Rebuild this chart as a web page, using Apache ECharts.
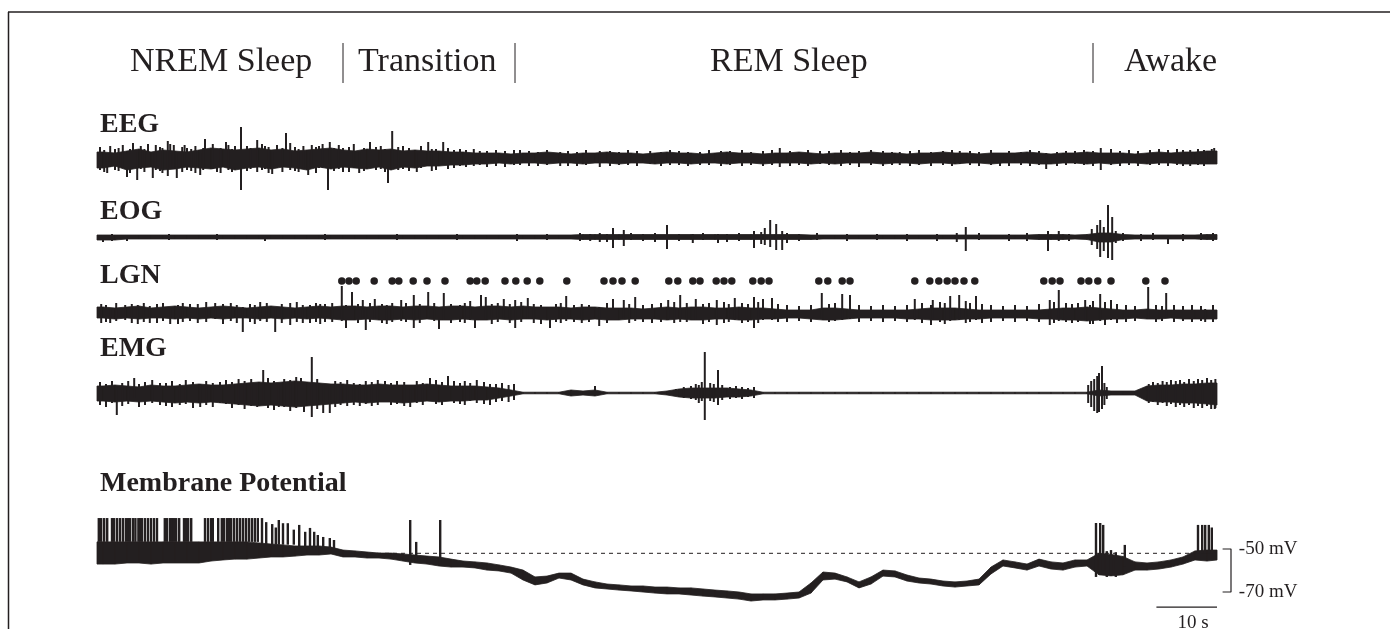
<!DOCTYPE html>
<html><head><meta charset="utf-8">
<script src="https://cdn.jsdelivr.net/npm/echarts@6/dist/echarts.min.js"></script>
<style>html,body{margin:0;padding:0;background:#fff}#c{width:1390px;height:629px}</style>
</head><body><div id="c"></div>
<script>
// ---------------- data ----------------
const phaseLabels = ['NREM Sleep', 'Transition', 'REM Sleep', 'Awake'];
const channelNames = ['EEG', 'EOG', 'LGN', 'EMG', 'Membrane Potential'];
const BIN_S = 2;            // envelope bins, seconds
const T_END = 186.67;       // record length, seconds

// core envelopes: max / min per 2-s bin (arbitrary units, baseline 0)
const eegHi = [6,5,7,9,6,8,7,6,8,10, 9,8,9,10,8,9,7,8,9,10, 8,7,9,8,9,7,8,7,7,6, 6,5,5,5,4,5,5,6,5,4, 5,5,6,5,5,4,5,6,5,5, 4,5,6,5,5,4,5,5,6,5, 4,5,5,5,6,5,5,4,5,5, 6,5,5,4,5,5,5,6,5,4, 5,5,6,5,5,5,4,5,6,5, 6,6,7,7];
const eegLo = [-10,-8,-12,-10,-9,-12,-11,-9,-10,-11, -9,-12,-10,-9,-11,-9,-10,-12,-9,-11, -9,-10,-11,-9,-12,-9,-10,-8,-8,-7, -7,-6,-6,-5,-6,-5,-5,-6,-5,-5, -6,-5,-5,-6,-5,-5,-6,-5,-5,-6, -5,-5,-6,-5,-5,-6,-5,-5,-5,-6, -5,-6,-5,-5,-5,-6,-5,-5,-6,-5, -5,-6,-5,-5,-6,-5,-5,-5,-6,-6, -5,-5,-6,-5,-6,-5,-5,-6,-5,-5, -6,-6,-6,-6];
const eogHi = [2,2,2,2,2,2,2,2,2,2, 2,2,2,2,2,2,2,2,2,2, 2,2,2,2,2,2,2,2,2,2, 2,2,2,2,2,2,2,2,2,2, 2.5,2.5,2.5,2.5,2.5,2.5,2.5,2.5,2.5,2.5, 2.5,2.5,2.5,2.5,2.5,2.5,2.5,2.5,2.5,2, 2,2,2,2,2,2,2,2,2,2, 2,2,2,2,2,2,2,2,2.5,2.5, 2.5,2,2.5,4,4,2.5,2,2,2,2, 2,2,2.5,2.5];
const eogLo = [-3,-3,-2,-2,-2,-2,-2,-2,-2,-2, -2,-2,-2,-2,-2,-2,-2,-2,-2,-2, -2,-2,-2,-2,-2,-2,-2,-2,-2,-2, -2,-2,-2,-2,-2,-2,-2,-2,-2,-2, -2.5,-2.5,-2.5,-2.5,-2.5,-2.5,-2.5,-2.5,-2.5,-2.5, -2.5,-2.5,-2.5,-2.5,-2.5,-2.5,-2.5,-2.5,-2.5,-2.5, -2,-2,-2,-2,-2,-2,-2,-2,-2,-2, -2,-2,-2,-2,-2,-2,-2,-2,-2.5,-2.5, -2.5,-2,-2.5,-5,-5,-2.5,-2,-2,-2,-2, -2,-2,-2.5,-2.5];
const lgnHi = [6,5,6,7,5,6,7,6,5,6, 7,6,5,6,7,6,5,6,7,6, 7,7,6,7,7,6,7,7,6,7, 7,6,7,7,6,7,6,6,6,5, 6,6,5,5,5,4,5,6,5,6, 6,5,5,6,5,5,4,3,3,3, 5,5,4,3,3,3,3,3,4,5, 5,5,4,3,3,3,3,3,3,4, 5,5,6,5,4,3,3,4,3,3, 3,3,3,3];
const lgnLo = [-5,-6,-5,-6,-5,-5,-6,-5,-6,-5, -6,-5,-5,-6,-5,-6,-5,-6,-5,-6, -7,-7,-6,-7,-7,-6,-7,-6,-7,-7, -6,-7,-7,-6,-7,-6,-6,-7,-6,-6, -7,-6,-7,-7,-6,-6,-6,-7,-6,-7, -7,-6,-6,-7,-7,-6,-6,-5,-5,-6, -7,-7,-6,-5,-5,-5,-5,-6,-6,-7, -7,-7,-6,-6,-5,-5,-5,-5,-6,-6, -7,-7,-8,-7,-6,-6,-5,-6,-6,-5, -6,-6,-6,-6];
const emgHi = [7,8,7,6,8,7,7,8,9,8, 8,9,10,11,10,11,12,11,10,9, 9,8,8,9,8,8,8,9,8,7, 7,7,6,5,3, 0.8,0.8,0.8,0.8,3,2,3,0.8,0.8,0.8,0.8,0.8,2, 4,5,5,5,5,4,3, 0.8,0.8,0.8,0.8,0.8,0.8,0.8,0.8,0.8,0.8,0.8,0.8,0.8,0.8,0.8,0.8,0.8,0.8,0.8,0.8,0.8,0.8,0.8,0.8,0.8,0.8,0.8,0.8, 3, 2,2,2, 7,8,8,9,9,10,10];
const emgLo = [-8,-9,-8,-9,-8,-9,-10,-9,-10,-9, -10,-11,-12,-13,-12,-13,-14,-13,-12,-11, -10,-9,-10,-9,-9,-10,-9,-8,-9,-8, -8,-7,-7,-5,-3, -0.8,-0.8,-0.8,-0.8,-3,-2,-3,-0.8,-0.8,-0.8,-0.8,-0.8,-2, -4,-5,-5,-5,-4,-4,-3, -0.8,-0.8,-0.8,-0.8,-0.8,-0.8,-0.8,-0.8,-0.8,-0.8,-0.8,-0.8,-0.8,-0.8,-0.8,-0.8,-0.8,-0.8,-0.8,-0.8,-0.8,-0.8,-0.8,-0.8,-0.8,-0.8,-0.8,-0.8, -3, -2,-2,-2, -8,-9,-9,-10,-10,-11,-12];
// membrane potential envelope, mV
const vmHi = [-46.7,-46.7,-46.7,-46.7,-46.7,-46.7,-46.7,-46.7,-46.7,-46.7, -46.7,-46.7,-46.7,-47.2,-47.7,-48.1,-48.6,-48.6,-48.6,-49.1, -50.5,-50.9,-51.4,-51.9,-51.9,-52.3,-52.8,-53.3,-53.7,-54.7, -55.6,-56.0,-56.5,-57.4,-58.4,-59.8,-63.0,-62.6,-61.2,-61.2, -64.0,-65.3,-66.3,-66.7,-67.2,-67.2,-67.7,-67.7,-68.1,-68.1, -68.6,-69.1,-69.5,-70.0,-70.9,-70.9,-70.9,-70.5,-70.0,-65.8, -60.7,-61.2,-63.0,-65.3,-63.0,-59.8,-60.2,-62.1,-63.5,-64.0, -64.9,-65.3,-64.9,-64.0,-58.4,-55.1,-56.0,-57.0,-54.7,-56.0, -56.5,-55.1,-55.1,-52.0,-52.5,-53.5,-56.0,-56.5,-56.0,-55.1, -53.7,-50.9,-50.5,-50.5];
const vmLo = [-57.0,-57.0,-56.5,-56.5,-57.0,-56.5,-56.5,-56.5,-56.5,-55.6, -55.1,-54.7,-54.7,-54.2,-53.7,-53.7,-53.3,-52.8,-52.8,-52.3, -53.7,-53.7,-54.2,-54.2,-54.7,-55.6,-56.5,-57.0,-57.9,-58.4, -58.4,-58.8,-59.8,-60.2,-61.2,-64.4,-66.7,-65.8,-63.5,-64.4, -66.7,-68.1,-68.6,-69.1,-69.5,-70.0,-70.5,-70.9,-70.9,-71.4, -71.9,-72.3,-72.8,-73.3,-74.2,-73.7,-73.7,-73.3,-72.8,-70.5, -64.4,-64.0,-65.3,-68.1,-66.3,-62.6,-63.0,-64.9,-65.8,-66.3, -67.2,-67.7,-67.2,-66.7,-61.6,-57.9,-58.8,-59.8,-57.9,-59.3, -59.8,-58.4,-57.9,-62.0,-62.5,-62.0,-59.8,-59.8,-59.3,-58.4, -57.0,-55.1,-55.6,-55.1];

// transients: [time s, top, bottom]
const eegSpikes = [[1.7,2,-15],[3.0,9,-12],[5.0,4,-19],[6.0,15,-6],[6.7,6,-22],[8.5,14,-8],[9.3,5,-20],[10.5,11,-13],[11.8,17,-18],[12.8,13,-8],[13.3,4,-20],[15.0,10,-12],[17.2,5,-17],[18.0,19,-6],[20.0,8,-14],[21.5,16,-6],[23.0,12,-10],[24.0,31,-32],[26.7,18,-14],[28.0,12,-11],[29.2,6,-16],[31.5,25,-6],[33.0,11,-13],[35.2,5,-17],[35.8,13,-7],[37.0,12,-10],[38.5,6,-32],[38.8,16,-6],[41.0,10,-14],[43.7,6,-15],[45.5,16,-6],[46.5,11,-12],[48.5,6,-25],[49.2,27,-8],[51.0,12,-11],[53.3,5,-14],[55.2,16,-6],[55.8,9,-13],[57.7,16,-6],[60.5,9,-8],[63.8,7,-7],[70.5,8,-7],[77.2,6,-8],[83.8,7,-9],[92.2,7,-6],[100.5,6,-7],[113.8,10,-9],[120.5,7,-6],[133.8,6,-7],[143.8,7,-6],[150.5,5,-8],[158.2,5,-11],[163.0,7,-6],[167.3,10,-12],[175.5,8,-7],[182.2,8,-8],[185.8,9,-6],
  [0.5,11,-12],[1.2,8,-14],[2.2,12,-9],[3.6,10,-13],[4.3,13,-10],[5.5,9,-15],[7.3,12,-11],[7.9,9,-14],[9.8,13,-12],[10.9,10,-15],[12.2,14,-10],[14.2,11,-14],[14.6,13,-9],[15.7,9,-13],[16.4,12,-15],[17.7,10,-12],[19.3,14,-11],[20.6,10,-15],[21.9,13,-12],[22.5,9,-14],[25.0,12,-13],[25.6,10,-11],[27.5,14,-12],[28.6,11,-15],[30.0,13,-10],[30.9,10,-14],[32.2,15,-12],[33.6,9,-14],[34.4,12,-11],[36.5,11,-15],[37.6,14,-10],[39.5,10,-13],[40.3,13,-11],[42.0,11,-14],[42.8,14,-10],[44.5,10,-13],[47.3,12,-11],[48.0,9,-14],[50.2,11,-12],[52.0,10,-13],[54.0,12,-10],[56.5,9,-12],[58.5,10,-11],[59.5,8,-10],[61.5,8,-9],[62.8,9,-8],[65.0,7,-9],[66.5,8,-8],[68.0,7,-9],[69.5,8,-7],[72.0,7,-8],[73.5,6,-8],[75.0,8,-7],[78.5,7,-8],[80.0,6,-8],[81.5,8,-7],[85.5,7,-8],[87.0,6,-7],[88.5,8,-7],[90.0,7,-8],[94.0,6,-8],[95.5,8,-7],[97.0,7,-7],[98.5,6,-8],[102.0,8,-7],[104.0,7,-8],[105.5,7,-7],[107.5,8,-8],[109.0,6,-7],[111.0,7,-8],[112.5,8,-7],[115.5,7,-8],[117.0,6,-7],[118.5,8,-8],[122.0,7,-7],[124.0,8,-8],[125.5,6,-7],[127.0,7,-9],[129.0,8,-7],[131.0,7,-8],[132.5,6,-7],[135.5,7,-8],[137.0,8,-7],[139.0,6,-8],[141.0,7,-7],[142.5,8,-8],[145.5,7,-7],[147.0,6,-8],[149.0,8,-7],[152.0,7,-8],[154.0,6,-7],[155.5,8,-8],[157.0,7,-7],[160.0,6,-8],[161.5,7,-7],[164.5,8,-7],[166.0,7,-8],[169.0,9,-7],[170.5,7,-8],[172.0,8,-7],[173.5,7,-8],[177.0,9,-7],[178.5,8,-8],[180.0,9,-7],[181.0,8,-8],[183.5,9,-7],[184.5,8,-8],[186.2,10,-6]];
const eogSpikes = [[82.2,3,-4],[83.8,4,-5],[86.0,9,-11],[87.8,7,-9],[95.0,12,-12],[99.3,3,-6],[103.5,3,-6],[109.5,6,-11],[110.7,5,-7],[111.3,9,-8],[112.2,17,-10],[113.2,13,-13],[114.2,6,-13],[115.0,4,-6],[143.3,4,-5],[144.8,10,-14],[158.5,6,-14],[160.3,6,-4],[165.8,8,-8],[166.7,12,-12],[167.2,17,-20],[167.8,10,-14],[168.5,32,-21],[169.2,20,-23],[169.8,6,-6],[178.5,2,-7],
  [1.0,2,-5],[2.5,3,-4],[5.0,2,-4],[12.0,3,-3],[20.0,3,-3],[28.0,2,-4],[38.0,3,-3],[50.0,3,-3],[60.0,3,-3],[70.0,3,-4],[75.0,3,-3],[80.5,4,-4],[85.0,3,-5],[89.0,4,-3],[91.0,3,-4],[93.0,4,-5],[97.0,3,-4],[101.0,4,-3],[105.0,3,-5],[107.0,4,-4],[117.0,3,-4],[120.0,4,-3],[125.0,3,-4],[130.0,3,-3],[135.0,3,-4],[140.0,3,-4],[147.0,4,-3],[152.0,3,-4],[155.0,4,-4],[162.0,3,-4],[171.0,4,-4],[174.0,3,-4],[176.0,4,-3],[181.0,3,-4],[184.0,4,-3],[186.0,4,-4]];
const lgnSpikes = [[2.2,4,-10],[4.7,8,-7],[8.8,7,-10],[12.2,5,-11],[15.5,9,-8],[19.7,10,-6],[24.3,6,-19],[27.2,11,-8],[29.7,5,-19],[32.2,10,-12],[35.5,8,-10],[38.0,9,-9],[40.8,27,-8],[41.5,8,-15],[42.5,21,-7],[44.3,13,-6],[44.8,6,-17],[46.3,14,-6],[49.2,10,-9],[50.7,13,-8],[52.8,18,-15],[55.2,21,-6],[57.0,6,-16],[57.8,20,-7],[62.2,12,-7],[63.0,6,-15],[64.0,18,-6],[64.8,16,-6],[67.8,14,-6],[69.7,13,-15],[71.8,15,-6],[75.5,6,-15],[78.2,17,-8],[83.7,6,-13],[86.0,14,-7],[87.8,13,-6],[89.7,16,-8],[95.2,13,-7],[97.2,18,-9],[99.8,14,-7],[103.3,13,-12],[106.3,15,-7],[109.5,16,-15],[111.0,14,-7],[112.5,15,-7],[120.8,20,-6],[124.2,19,-7],[125.5,18,-6],[136.3,14,-7],[139.0,8,-12],[139.3,13,-6],[142.2,17,-8],[143.7,18,-7],[146.5,17,-7],[158.8,13,-12],[160.3,23,-8],[164.7,13,-7],[165.5,8,-11],[167.2,19,-8],[169.0,13,-7],[175.2,26,-6],[178.2,20,-5],[184.7,4,-9],
  [0.7,9,-10],[1.5,8,-9],[3.2,10,-8],[5.8,9,-10],[6.8,8,-11],[7.8,10,-9],[10.0,9,-10],[11.0,10,-8],[13.5,8,-11],[14.3,10,-9],[16.8,9,-10],[18.2,11,-9],[21.0,9,-11],[22.3,10,-8],[23.3,8,-10],[25.5,9,-9],[26.3,8,-11],[28.3,10,-9],[30.8,9,-10],[33.3,11,-9],[34.3,8,-10],[36.5,10,-9],[37.2,9,-11],[39.2,10,-9],[43.5,9,-10],[45.5,10,-9],[47.5,9,-10],[48.3,8,-11],[51.5,10,-9],[53.8,9,-10],[56.2,10,-8],[59.0,9,-10],[60.5,8,-9],[61.3,10,-10],[65.8,9,-11],[66.8,10,-9],[68.8,9,-10],[70.7,11,-9],[72.8,9,-10],[74.0,8,-11],[76.5,9,-9],[77.3,10,-10],[79.5,8,-9],[80.8,9,-10],[82.0,8,-9],[85.0,10,-10],[88.7,9,-10],[91.0,8,-9],[92.5,9,-10],[94.0,10,-9],[96.2,11,-10],[98.3,10,-9],[101.0,9,-11],[102.0,10,-9],[104.5,11,-10],[105.3,9,-9],[107.5,10,-10],[108.5,9,-9],[110.2,11,-10],[113.5,9,-9],[115.0,8,-9],[117.0,7,-8],[119.0,8,-9],[122.0,9,-9],[123.0,10,-8],[127.0,8,-9],[129.0,7,-8],[131.0,8,-9],[133.0,7,-8],[135.0,8,-9],[137.5,10,-10],[140.5,11,-9],[141.3,10,-11],[144.8,12,-10],[145.5,10,-9],[147.5,9,-10],[149.0,8,-9],[151.0,7,-8],[153.0,8,-9],[155.0,7,-8],[157.0,9,-9],[159.5,11,-10],[161.5,10,-9],[162.5,9,-10],[163.5,10,-9],[166.0,12,-11],[168.0,11,-12],[170.0,9,-10],[171.5,8,-9],[173.0,7,-8],[176.5,8,-9],[177.5,7,-8],[179.5,8,-9],[181.0,7,-8],[182.5,8,-9],[184.0,7,-8],[186.0,8,-9]];
const lgnDotTimes = [40.8,42.0,43.2,46.2, 49.2,50.3,52.7,55.0, 58.0, 62.2,63.3,64.7, 68.0,69.8,71.7,73.8, 78.3, 84.5,86.0,87.5,89.7, 95.3,96.8,99.3,100.5,103.2,104.5,105.8,109.3,110.7,112.0, 120.3,121.8,124.2,125.5, 136.3,138.8,140.3,141.7,143.0,144.5,146.3, 157.8,159.2,160.5,164.0,165.3,166.8,169.0, 174.8,178.0];
const emgSpikes = [[3.3,3,-22],[6.2,15,-5],[10.5,10,-12],[17.2,9,-14],[20.5,11,-10],[26.7,5,-14],[27.7,23,-8],[30.3,8,-14],[34.0,15,-8],[34.5,6,-19],[35.8,36,-24],[37.7,8,-20],[38.8,6,-20],[43.8,9,-13],[48.0,12,-9],[52.2,5,-14],[55.5,15,-5],[58.5,17,-6],[62.2,10,-8],[65.5,9,-12],[83.0,7,-2],[100.8,11,-8],[101.3,41,-27],[103.5,23,-12],[166.7,17,-20],[167.5,27,-16],[186.3,5,-16],
  [0.5,11,-12],[1.5,9,-14],[2.5,12,-10],[4.2,10,-13],[5.2,12,-11],[7.0,9,-14],[8.0,11,-12],[9.2,13,-10],[11.5,10,-13],[12.5,12,-14],[13.8,9,-12],[14.8,13,-11],[16.0,11,-15],[18.2,12,-12],[19.3,10,-14],[21.5,13,-11],[22.5,11,-15],[23.6,14,-12],[24.6,12,-16],[25.7,14,-13],[28.5,15,-15],[29.5,12,-17],[31.2,14,-14],[32.2,13,-18],[33.2,16,-15],[36.7,14,-16],[39.7,12,-14],[40.6,11,-12],[41.7,13,-13],[42.8,10,-12],[44.8,12,-11],[45.8,11,-13],[46.8,13,-12],[49.0,10,-12],[50.0,12,-11],[51.2,11,-13],[53.3,12,-10],[54.3,10,-12],[56.5,13,-11],[57.5,11,-12],[59.5,12,-10],[60.5,10,-11],[61.3,12,-12],[63.3,13,-10],[64.5,11,-11],[66.5,9,-9],[67.5,10,-8],[68.6,8,-9],[69.5,9,-7],
  [96.5,4,-3],[97.8,6,-5],[99.0,7,-6],[99.8,9,-7],[100.3,8,-10],[102.2,10,-8],[102.8,9,-9],[104.2,8,-7],[105.5,6,-6],[106.5,7,-5],[107.5,6,-6],[108.5,5,-4],[109.5,6,-5],
  [165.2,8,-10],[165.7,12,-14],[166.2,14,-18],[167.0,20,-19],[167.9,10,-12],[168.3,6,-6],
  [175.3,9,-10],[176.0,11,-9],[176.8,10,-12],[177.6,12,-10],[178.3,11,-13],[179.0,13,-11],[179.8,12,-14],[180.5,13,-12],[181.2,11,-14],[182.0,14,-12],[182.8,12,-15],[183.5,14,-13],[184.2,13,-15],[185.0,15,-13],[185.7,13,-16],[186.4,14,-15]];
const vmSpikes = [[0.3,-35.6,-46.7],[0.7,-35.6,-46.7],[1.2,-35.6,-46.7],[1.7,-35.6,-46.7],[2.5,-35.6,-46.7],[2.8,-35.6,-46.7],[3.3,-35.6,-46.7],[3.8,-35.6,-46.7],[4.3,-35.6,-46.7],[4.8,-35.6,-46.7],[5.2,-35.6,-46.7],[5.5,-35.6,-46.7],[6.0,-35.6,-46.7],[6.4,-35.6,-46.7],[6.9,-35.6,-46.7],[7.2,-35.6,-46.7],[7.5,-35.6,-46.7],[8.0,-35.6,-46.7],[8.5,-35.6,-46.7],[9.0,-35.6,-46.7],[9.5,-35.6,-46.7],[10.0,-35.6,-46.7],[11.3,-35.6,-46.7],[11.7,-35.6,-46.7],[12.2,-35.6,-46.7],[12.5,-35.6,-46.7],[12.8,-35.6,-46.7],[13.2,-35.6,-46.7],[13.7,-35.6,-46.7],[14.5,-35.6,-46.7],[14.8,-35.6,-46.7],[15.2,-35.6,-46.7],[15.7,-35.6,-46.7],[18.0,-35.6,-46.7],[18.5,-35.6,-46.7],[19.0,-35.6,-46.7],[19.3,-35.6,-46.7],[20.2,-35.6,-46.7],[20.8,-35.6,-46.7],[21.2,-35.6,-46.7],[21.7,-35.6,-46.7],[22.0,-35.6,-46.7],[22.3,-35.6,-46.7],[22.8,-35.6,-46.7],[23.3,-35.6,-46.7],[23.8,-35.6,-46.7],[24.3,-35.6,-46.7],[24.8,-35.6,-46.7],[25.3,-35.6,-46.7],[25.8,-35.6,-46.7],[26.3,-35.6,-46.7],[26.8,-35.6,-46.7],[27.5,-35.6,-48],[28.2,-37.5,-48],[29.2,-38.4,-48],[29.8,-40.0,-48],[30.3,-36.5,-48],[31.0,-38.0,-48],[31.8,-38.0,-48],[32.8,-41.0,-48],[33.7,-38.8,-49],[34.7,-42.0,-49],[35.5,-40.2,-49],[36.2,-42.0,-49],[36.8,-43.5,-49],[37.7,-44.4,-50],[38.8,-44.9,-50],[39.5,-45.8,-50],[52.2,-36.5,-57.4],[53.2,-46.7,-56.0],[57.2,-36.5,-56.5],[166.5,-37.9,-63.0],[167.2,-37.9,-62.0],[167.7,-38.8,-60.0],[168.3,-51.0,-63.0],[169.0,-50.5,-62.0],[169.8,-51.5,-63.0],[171.3,-48.1,-58.0],[183.5,-38.8,-52.0],[184.2,-38.8,-52.0],[184.7,-38.8,-52.0],[185.3,-38.8,-52.0],[185.8,-40.0,-52.0]];
const thresholdMv = -52;
const scaleBarS = [176.67, 186.67];   // 10 s
const scaleBarMv = [-50, -70];        // 20 mV
const scaleLabels = ['-50 mV', '-70 mV', '10 s'];

// ---------------- chart ----------------
const INK = '#231f20';
const SERIF = '"Liberation Serif", "Times New Roman", serif';
// [top, height, width, xMax, yMin, yMax]
const gridRows = [[118, 80, 1120, T_END, -40, 40], [197, 80, 1120, T_END, -40, 40], [273, 80, 1120, T_END, -40, 40], [343, 100, 1120, T_END, -50, 50], [506, 107.5, 1200, 200, -80, -30]];

function bandData(hi, lo) {
  const pts = [[0, hi[0], lo[0]]];
  for (let i = 0; i < hi.length; i++) pts.push([Math.min(i * BIN_S + BIN_S / 2, T_END), hi[i], lo[i]]);
  const out = [];
  for (let i = 0; i < pts.length - 1; i++) out.push([pts[i][0], pts[i][1], pts[i][2], pts[i + 1][0], pts[i + 1][1], pts[i + 1][2]]);
  return out;
}
function bandSeries(k, hi, lo) {
  return {
    type: 'custom', xAxisIndex: k, yAxisIndex: k, silent: true, z: 3,
    data: bandData(hi, lo), encode: { x: [0, 3], y: [1, 2, 4, 5] },
    renderItem: (p, api) => {
      const a = api.coord([api.value(0), api.value(1)]);
      const b = api.coord([api.value(3), api.value(4)]);
      const c = api.coord([api.value(3), api.value(5)]);
      const d = api.coord([api.value(0), api.value(2)]);
      return { type: 'polygon', shape: { points: [a, b, c, d] }, style: { fill: INK, stroke: INK, lineWidth: 0.8 } };
    }
  };
}
function spikeSeries(k, spikes, w) {
  return {
    type: 'custom', xAxisIndex: k, yAxisIndex: k, silent: true, z: 4,
    data: spikes, encode: { x: 0, y: [1, 2] },
    renderItem: (p, api) => {
      const a = api.coord([api.value(0), api.value(1)]);
      const b = api.coord([api.value(0), api.value(2)]);
      return { type: 'rect', shape: { x: a[0] - w / 2, y: a[1], width: w, height: b[1] - a[1] }, style: { fill: INK } };
    }
  };
}

const headerX = [130, 358, 710, 1124];
const dividerX = [343, 515, 1093];
const labelY = [125, 212, 276, 349, 484];

const graphic = [
  { type: 'line', shape: { x1: 8, y1: 12, x2: 1390, y2: 12 }, style: { stroke: INK, lineWidth: 1.5 } },
  { type: 'line', shape: { x1: 8.5, y1: 12, x2: 8.5, y2: 629 }, style: { stroke: INK, lineWidth: 1.5 } }
];
phaseLabels.forEach((t, i) => graphic.push({ type: 'text', x: headerX[i], y: 62, style: { text: t, font: '34px ' + SERIF, fill: INK, verticalAlign: 'middle', align: 'left' } }));
dividerX.forEach(x => graphic.push({ type: 'line', shape: { x1: x, y1: 43, x2: x, y2: 83 }, style: { stroke: INK, lineWidth: 1 } }));
channelNames.forEach((t, i) => graphic.push({ type: 'text', x: 100, y: labelY[i], style: { text: t, font: 'bold 28px ' + SERIF, fill: INK, verticalAlign: 'middle', align: 'left' } }));

const series = [
  bandSeries(0, eegHi, eegLo), spikeSeries(0, eegSpikes, 2),
  bandSeries(1, eogHi, eogLo), spikeSeries(1, eogSpikes, 2),
  bandSeries(2, lgnHi, lgnLo), spikeSeries(2, lgnSpikes, 2),
  { type: 'scatter', xAxisIndex: 2, yAxisIndex: 2, silent: true, symbolSize: 7.5, itemStyle: { color: INK, opacity: 1 }, data: lgnDotTimes.map(t => [t, 32]) },
  bandSeries(3, emgHi, emgLo), spikeSeries(3, emgSpikes, 2),
  { type: 'line', xAxisIndex: 4, yAxisIndex: 4, silent: true, symbol: 'none', z: 2, lineStyle: { color: INK, width: 1, type: [4, 4] }, data: [[0, thresholdMv], [T_END, thresholdMv]] },
  bandSeries(4, vmHi, vmLo), spikeSeries(4, vmSpikes, 2.4),
  { type: 'line', xAxisIndex: 4, yAxisIndex: 4, silent: true, symbol: 'none', lineStyle: { color: INK, width: 1.2 },
    data: [[scaleBarS[0] - 0.1, -77], [scaleBarS[1], -77]] },
  { type: 'line', xAxisIndex: 4, yAxisIndex: 4, silent: true, symbol: 'none', lineStyle: { color: INK, width: 1.2 },
    data: [[187.6, scaleBarMv[0]], [189.0, scaleBarMv[0]], [189.0, scaleBarMv[1]], [187.6, scaleBarMv[1]]] },
  { type: 'scatter', xAxisIndex: 4, yAxisIndex: 4, silent: true, clip: false, symbolSize: 0, itemStyle: { opacity: 1, color: INK },
    label: { show: true, formatter: p => p.name, fontFamily: SERIF, fontSize: 19, color: INK },
    data: [
      { name: scaleLabels[0], value: [190.3, scaleBarMv[0]], label: { position: 'right', distance: 0 } },
      { name: scaleLabels[1], value: [190.3, scaleBarMv[1]], label: { position: 'right', distance: 0 } },
      { name: scaleLabels[2], value: [182.67, -84.4], label: { position: 'inside' } }
    ] }
];

const chart = echarts.init(document.getElementById('c'), null, { renderer: 'canvas' });
chart.setOption({
  animation: false,
  backgroundColor: '#ffffff',
  grid: gridRows.map(r => ({ left: 97, width: r[2], top: r[0], height: r[1] })),
  xAxis: gridRows.map((r, i) => ({ gridIndex: i, type: 'value', min: 0, max: r[3], show: false })),
  yAxis: gridRows.map((r, i) => ({ gridIndex: i, type: 'value', min: r[4], max: r[5], show: false })),
  graphic,
  series
});
</script>
</body></html>
